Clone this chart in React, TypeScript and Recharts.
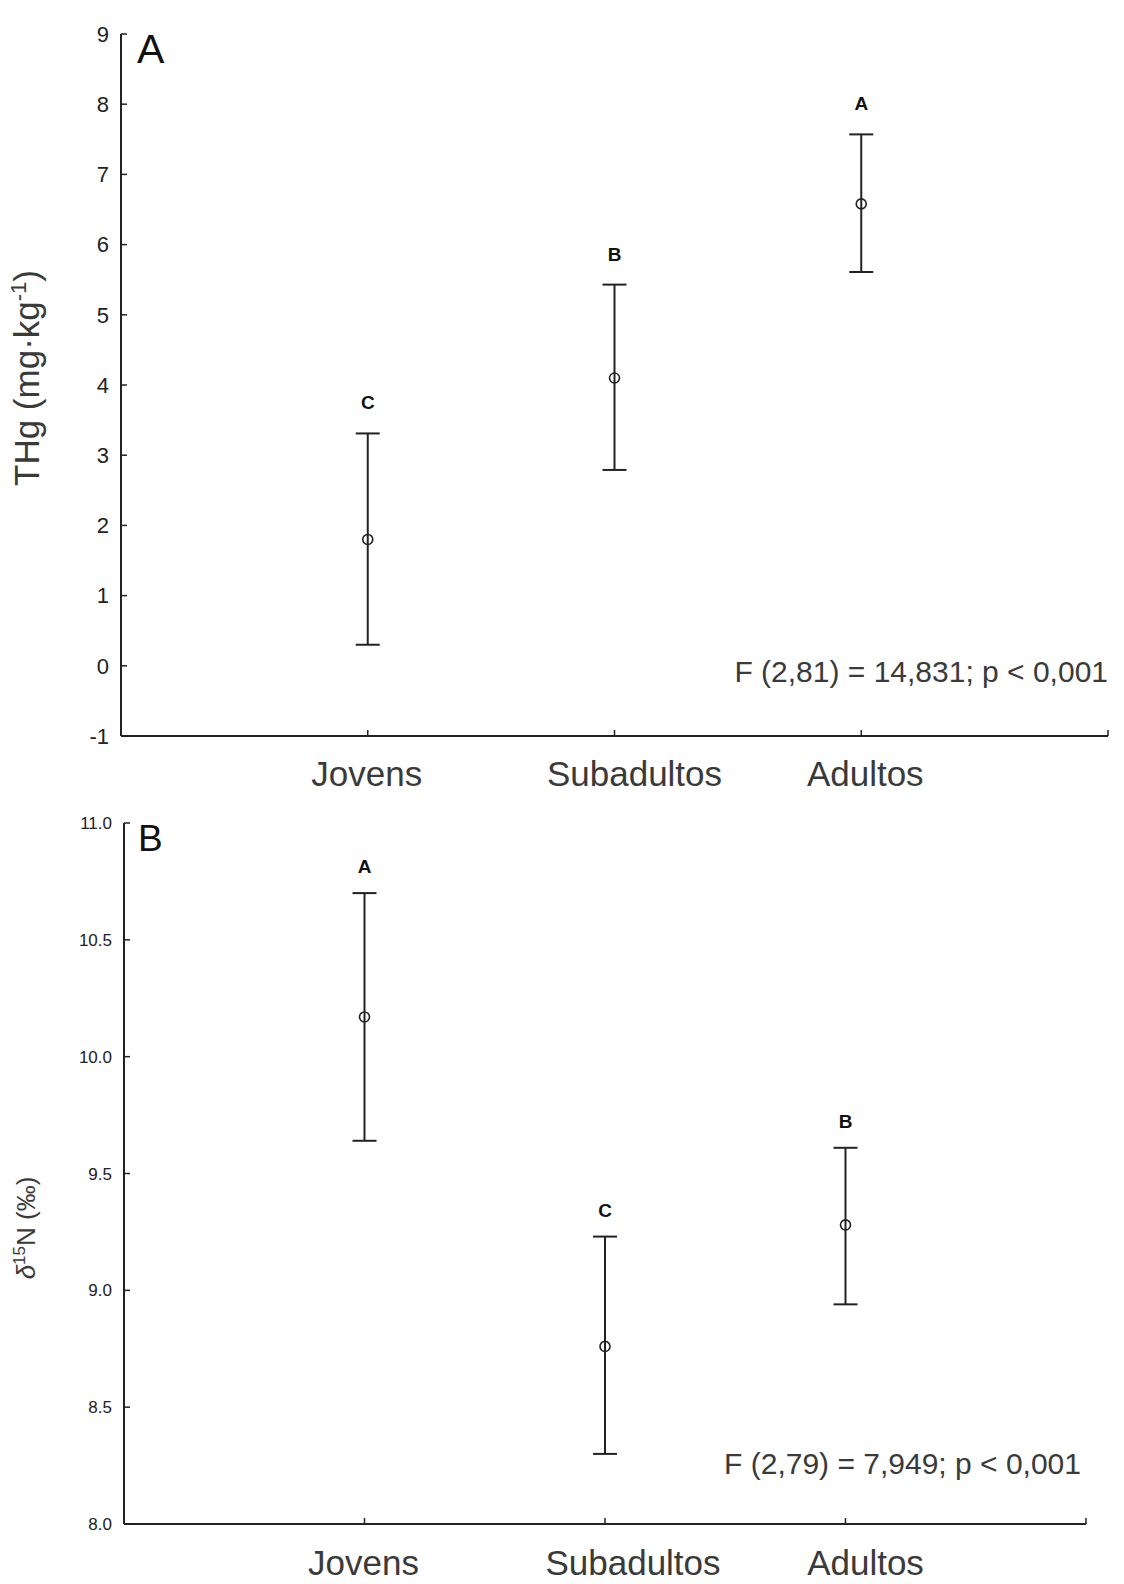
import React from 'react'
import { ComposedChart, Line, XAxis, YAxis, ErrorBar } from 'recharts'

// groups on the x axis
const categories = ['Jovens', 'Subadultos', 'Adultos']
const xTicks = [1, 2, 3, 4]

// panel A: THg (mg/kg)
const thgMean = [1.8, 4.1, 6.58]
const thgLow = [0.3, 2.79, 5.61]
const thgHigh = [3.31, 5.43, 7.57]
const thgLetters = ['C', 'B', 'A']
const thgTicks = [-1, 0, 1, 2, 3, 4, 5, 6, 7, 8, 9]

// panel B: d15N (‰)
const nMean = [10.17, 8.76, 9.28]
const nLow = [9.64, 8.3, 8.94]
const nHigh = [10.7, 9.23, 9.61]
const nLetters = ['A', 'C', 'B']
const nTicks = [8, 8.5, 9, 9.5, 10, 10.5, 11]

const FONT = '"Liberation Sans", Arial, Helvetica, sans-serif'
const INK = '#222'
const LABEL = '#3a3a3a'

const buildRows = (mean: number[], low: number[], high: number[], letters: string[]) =>
  categories.map((name, i) => ({
    pos: i + 1,
    name,
    mean: mean[i],
    high: high[i],
    err: [mean[i] - low[i], high[i] - mean[i]],
    letter: letters[i],
  }))

const rowsA = buildRows(thgMean, thgLow, thgHigh, thgLetters)
const rowsB = buildRows(nMean, nLow, nHigh, nLetters)

const xTick = (shifts: number[], baseline: number) => (props: any) => {
  const { x, y, payload } = props
  const i = payload.value - 1
  const label = categories[i] ?? ''
  return (
    <text x={x + (shifts[i] ?? 0)} y={y + baseline} textAnchor="middle" fontSize={35} fill={LABEL} fontFamily={FONT}>
      {label}
    </text>
  )
}

const meanDot = (p: any) => (
  <circle key={`m${p.index}`} cx={p.cx} cy={p.cy} r={5} fill="none" stroke={INK} strokeWidth={1.6} />
)

const letterDot = (lift: number) => (p: any) => (
  <text key={`l${p.index}`} x={p.cx} y={p.cy - lift} textAnchor="middle" fontSize={19} fontWeight="bold" fill="#111" fontFamily={FONT}>
    {p.payload.letter}
  </text>
)

interface PanelProps {
  rows: any[]
  ticks: number[]
  domain: [number, number]
  top: number
  width: number
  height: number
  margin: { top: number; right: number; left: number; bottom: number }
  yWidth: number
  yFont: number
  yMargin: number
  fmt?: (v: number) => string
  shifts: number[]
  labelDrop: number
  lift: number
}

function Panel({ rows, ticks, domain, top, width, height, margin, yWidth, yFont, yMargin, fmt, shifts, labelDrop, lift }: PanelProps) {
  return (
    <div style={{ position: 'absolute', left: 0, top }}>
      <ComposedChart width={width} height={height} data={rows} margin={margin}>
        <XAxis
          type="number"
          dataKey="pos"
          domain={[0, 4]}
          ticks={xTicks}
          interval={0}
          allowDataOverflow
          height={60}
          tickSize={-6}
          tickMargin={0}
          axisLine={{ stroke: INK, strokeWidth: 2 }}
          tickLine={{ stroke: INK, strokeWidth: 1.5 }}
          tick={xTick(shifts, labelDrop)}
        />
        <YAxis
          type="number"
          domain={domain}
          ticks={ticks}
          interval={0}
          allowDataOverflow
          width={yWidth}
          tickSize={-6}
          tickMargin={yMargin}
          tickFormatter={fmt}
          axisLine={{ stroke: INK, strokeWidth: 2 }}
          tickLine={{ stroke: INK, strokeWidth: 1.5 }}
          tick={{ fontSize: yFont, fill: INK, fontFamily: FONT }}
        />
        <Line dataKey="mean" stroke="none" dot={meanDot} activeDot={false} isAnimationActive={false}>
          <ErrorBar dataKey="err" direction="y" width={12} stroke={INK} strokeWidth={2} isAnimationActive={false} />
        </Line>
        <Line dataKey="high" stroke="none" dot={letterDot(lift)} activeDot={false} isAnimationActive={false} />
      </ComposedChart>
    </div>
  )
}

export default function App() {
  return (
    <div style={{ position: 'absolute', left: 0, top: 0, width: 1124, height: 1584, background: '#fff', fontFamily: FONT }}>
      <Panel
        rows={rowsA}
        ticks={thgTicks}
        domain={[-1, 9]}
        top={0}
        width={1124}
        height={796}
        margin={{ top: 34, right: 16, left: 0, bottom: 0 }}
        yWidth={121}
        yFont={22}
        yMargin={18}
        shifts={[-1, 20, 4]}
        labelDrop={56}
        lift={24}
      />
      <Panel
        rows={rowsB}
        ticks={nTicks}
        domain={[8, 11]}
        top={780}
        width={1124}
        height={804}
        margin={{ top: 43, right: 38, left: 0, bottom: 0 }}
        yWidth={124}
        yFont={17}
        yMargin={18}
        fmt={(v) => v.toFixed(1)}
        shifts={[-1, 28, 20]}
        labelDrop={57}
        lift={20}
      />
      <svg width={1124} height={1584} style={{ position: 'absolute', left: 0, top: 0, pointerEvents: 'none' }} fontFamily={FONT}>
        <text x={137} y={63} fontSize={41} fill="#111">A</text>
        <text x={138} y={851} fontSize={37} fill="#111">B</text>
        <text x={1108} y={682} fontSize={30} fill={LABEL} textAnchor="end">F (2,81) = 14,831; p &lt; 0,001</text>
        <text x={1081} y={1474} fontSize={30} fill={LABEL} textAnchor="end">F (2,79) = 7,949; p &lt; 0,001</text>
        <text transform="translate(39,378) rotate(-90)" fontSize={35} fill={LABEL} textAnchor="middle">
          THg (mg·kg<tspan fontSize={22} dy={-13}>-1</tspan><tspan dy={13}>)</tspan>
        </text>
        <text transform="translate(35,1228) rotate(-90)" fontSize={26} fill={LABEL} textAnchor="middle">
          <tspan fontStyle="italic">δ</tspan><tspan fontSize={17} dy={-10}>15</tspan><tspan dy={10}>N (‰)</tspan>
        </text>
      </svg>
    </div>
  )
}
